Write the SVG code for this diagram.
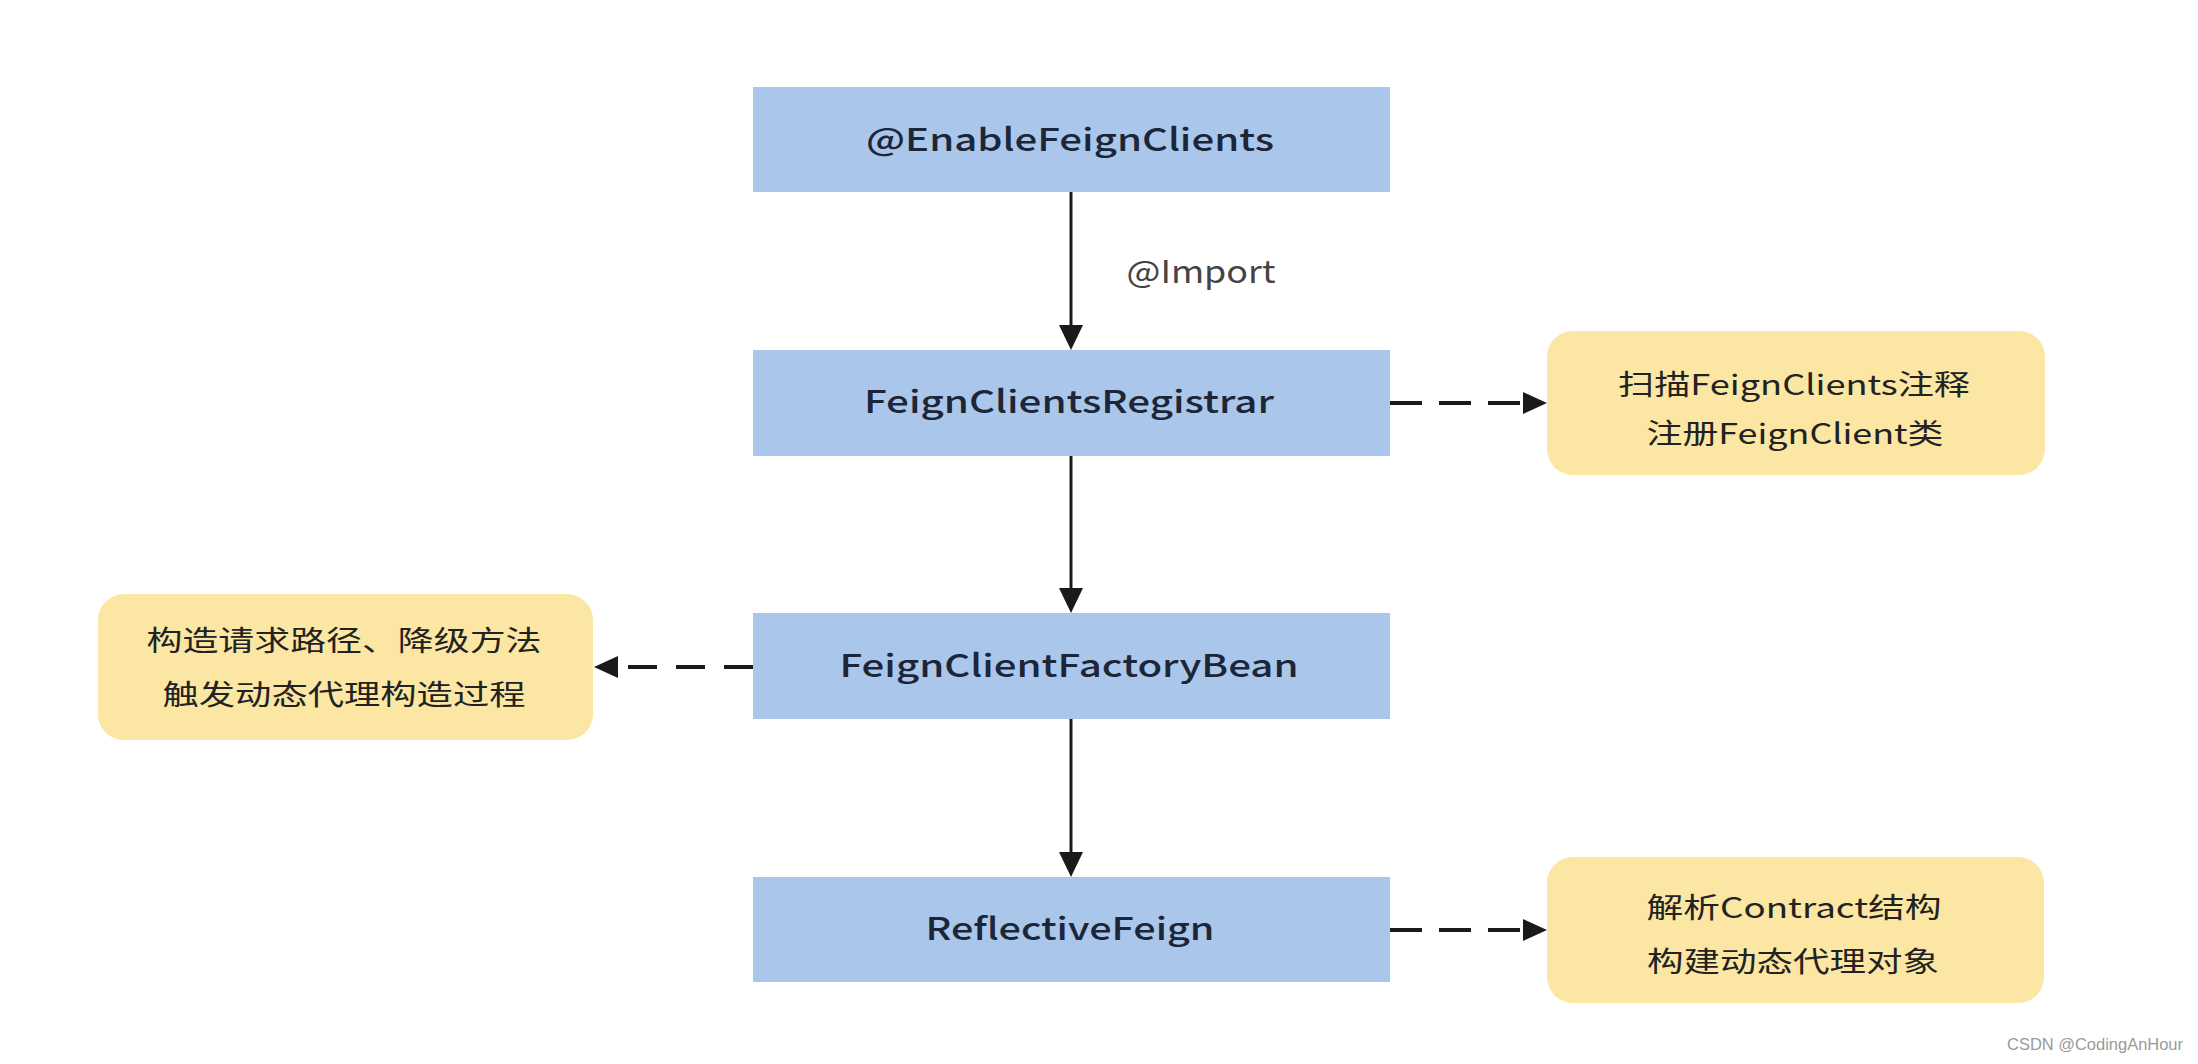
<svg xmlns="http://www.w3.org/2000/svg" width="2198" height="1064" viewBox="0 0 2198 1064">
<style>
.blue{fill:#aac6eb}
.yellow{fill:#fbe6a3}
.nt{font-family:"Noto Sans CJK SC","Noto Sans",sans-serif;font-size:31px;font-weight:500;fill:#1c2638;text-anchor:middle}
.yt{font-family:"Noto Sans CJK SC","Noto Sans",sans-serif;font-size:28px;fill:#222;text-anchor:middle}
.lbl{font-family:"Noto Sans CJK SC","Noto Sans",sans-serif;font-size:31px;fill:#444;text-anchor:middle}
.solid{stroke:#1a1a1a;stroke-width:3;fill:none}
.dash{stroke:#1a1a1a;stroke-width:4;fill:none;stroke-dasharray:32 17}
.wm{font-family:"Liberation Sans",Arial,sans-serif;font-size:17px;fill:#9a9a9a}
</style>
<defs>
<marker id="ah" markerUnits="userSpaceOnUse" markerWidth="26" markerHeight="26" refX="0" refY="12" orient="auto">
<path d="M0,0 L25,12 L0,24 z" fill="#1a1a1a"/>
</marker>
<marker id="ahd" markerUnits="userSpaceOnUse" markerWidth="26" markerHeight="24" refX="0" refY="11" orient="auto">
<path d="M0,0 L24,11 L0,22 z" fill="#1a1a1a"/>
</marker>
</defs>
<rect x="0" y="0" width="2198" height="1064" fill="#ffffff"/>
<g id="connectors">
<line class="solid" x1="1071" y1="192" x2="1071" y2="325" marker-end="url(#ah)"/>
<text class="lbl" x="1201" y="283" textLength="149" lengthAdjust="spacingAndGlyphs">@Import</text>
<line class="solid" x1="1071" y1="456" x2="1071" y2="588" marker-end="url(#ah)"/>
<line class="solid" x1="1071" y1="719" x2="1071" y2="852" marker-end="url(#ah)"/>
<line class="dash" x1="1390" y1="403" x2="1523" y2="403" marker-end="url(#ahd)"/>
<line class="dash" x1="753" y1="667" x2="618" y2="667" marker-end="url(#ahd)" style="stroke-dasharray:29 19"/>
<line class="dash" x1="1390" y1="930" x2="1523" y2="930" marker-end="url(#ahd)"/>
</g>
<g id="enable">
<rect class="blue" x="753" y="87" width="637" height="105"/>
<text class="nt" x="1070" y="151" textLength="408" lengthAdjust="spacingAndGlyphs">@EnableFeignClients</text>
</g>
<g id="registrar">
<rect class="blue" x="753" y="350" width="637" height="106"/>
<text class="nt" x="1069" y="413" textLength="410" lengthAdjust="spacingAndGlyphs">FeignClientsRegistrar</text>
</g>
<g id="factorybean">
<rect class="blue" x="753" y="613" width="637" height="106"/>
<text class="nt" x="1069" y="677" textLength="459" lengthAdjust="spacingAndGlyphs">FeignClientFactoryBean</text>
</g>
<g id="reflective">
<rect class="blue" x="753" y="877" width="637" height="105"/>
<text class="nt" x="1070" y="940" textLength="289" lengthAdjust="spacingAndGlyphs">ReflectiveFeign</text>
</g>
<g id="note-registrar">
<rect class="yellow" x="1547" y="331" width="498" height="144" rx="26"/>
<text class="yt" x="1794" y="395" textLength="352" lengthAdjust="spacingAndGlyphs">扫描FeignClients注释</text>
<text class="yt" x="1795" y="444" textLength="297" lengthAdjust="spacingAndGlyphs">注册FeignClient类</text>
</g>
<g id="note-factorybean">
<rect class="yellow" x="98" y="594" width="495" height="146" rx="26"/>
<text class="yt" x="344" y="651" textLength="395" lengthAdjust="spacingAndGlyphs">构造请求路径、降级方法</text>
<text class="yt" x="344" y="705" textLength="363" lengthAdjust="spacingAndGlyphs">触发动态代理构造过程</text>
</g>
<g id="note-reflective">
<rect class="yellow" x="1547" y="857" width="497" height="146" rx="26"/>
<text class="yt" x="1794" y="918" textLength="295" lengthAdjust="spacingAndGlyphs">解析Contract结构</text>
<text class="yt" x="1793" y="972" textLength="292" lengthAdjust="spacingAndGlyphs">构建动态代理对象</text>
</g>
<text class="wm" x="2007" y="1050" textLength="176" lengthAdjust="spacingAndGlyphs">CSDN @CodingAnHour</text>
</svg>
